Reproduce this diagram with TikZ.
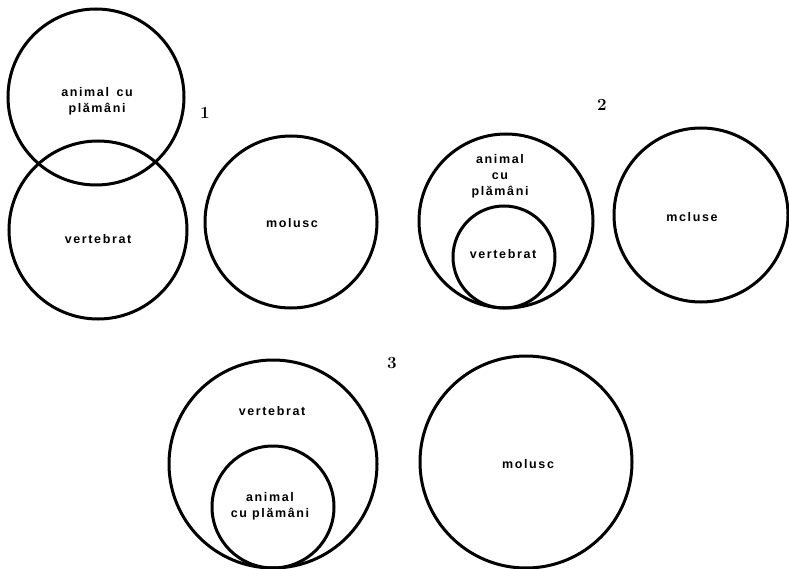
\documentclass[tikz,border=0pt]{standalone}
\usepackage{fontspec}
\newfontfamily\lblfont{Liberation Sans}[LetterSpace=13]
\tikzset{
  ring/.style={line width=3pt},
  lbl/.style={font=\lblfont\bfseries\fontsize{12.5}{16}\selectfont, align=center, inner sep=0pt},
  num/.style={font=\bfseries\fontsize{17}{19}\selectfont, inner sep=0pt}
}
\begin{document}
\begin{tikzpicture}[x=1pt,y=-1pt]
\useasboundingbox (0,0) rectangle (789,569);
% diagram 1
\draw[ring] (96,97) circle (88);
\draw[ring] (98,230) circle (89);
\draw[ring] (291,222) circle (86);
\node[lbl] (a1) at (97,101) {animal\hspace{0.6em}cu\\plămâni};
\node[lbl] (v1) at (98,239) {vertebrat};
\node[lbl] (m1) at (292,223) {molusc};
\node[num] (n1) at (205,113) {1};
% diagram 2
\draw[ring] (506,221) circle (87);
\draw[ring] (504,257) circle (51);
\draw[ring] (701,215) circle (87);
\node[lbl] (a2) at (500,176) {animal\\cu\\plămâni};
\node[lbl] (v2) at (503,254) {vertebrat};
\node[lbl] (m2) at (692,217) {mcluse};
\node[num] (n2) at (602,105) {2};
% diagram 3
\draw[ring] (273,464) circle (104);
\draw[ring] (273,507) circle (61);
\draw[ring] (526,462) circle (106);
\node[lbl] (v3) at (272,411) {vertebrat};
\node[lbl] (a3) at (270,506) {animal\\cu plămâni};
\node[lbl] (m3) at (528,464) {molusc};
\node[num] (n3) at (392,363) {3};
\end{tikzpicture}
\end{document}
